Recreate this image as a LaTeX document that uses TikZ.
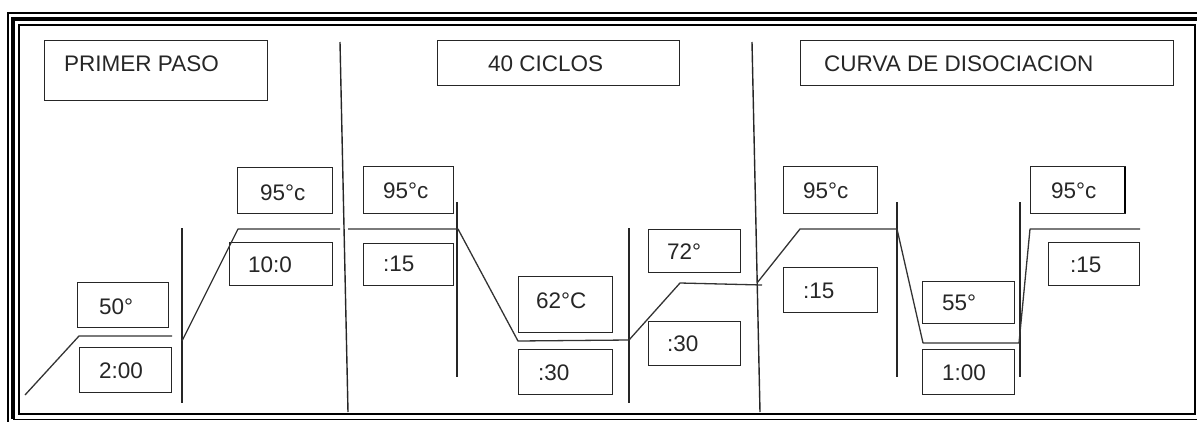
\documentclass[tikz,border=0pt]{standalone}
\usepackage{fontspec}
\setmainfont{Liberation Sans}
\begin{document}
\begin{tikzpicture}[x=1pt,y=-1pt,
  box/.style={draw=black!85, line width=1.4pt, inner sep=0pt, anchor=north west},
  txt/.style={font=\fontsize{22.5}{22.5}\selectfont, text=black!85, inner sep=0pt, anchor=base west},
  ln/.style={draw=black!85, line width=1.4pt},
  crv/.style={draw=black!80, line width=1.3pt, line join=round}]
\useasboundingbox (0,0) rectangle (1197,421);
% frame
\draw[line width=2.2pt] (8,430) -- (8,13) -- (1210,13);
\draw[line width=4pt] (13,419) -- (13,19) -- (1210,19);
\draw[line width=1.6pt] (13,419.5) -- (1210,419.5);
\draw[line width=1.8pt] (19,25) rectangle (1195,414);
% title boxes
\node[box, minimum width=223pt, minimum height=60pt] (b1) at (44,40) {};
\node[txt] (t1) at (64,71) {PRIMER PASO};
\node[box, minimum width=242pt, minimum height=45pt] (b2) at (437,40) {};
\node[txt] (t2) at (488,71) {40 CICLOS};
\node[box, minimum width=373pt, minimum height=45pt] (b3) at (800,40) {};
\node[txt] (t3) at (824,71) {CURVA DE DISOCIACION};
% value boxes
\node[box, minimum width=95pt, minimum height=46pt] (c1) at (237,167) {};
\node[txt] (u1) at (260,200) {95°c};
\node[box, minimum width=103pt, minimum height=43pt] (c2) at (229,242) {};
\node[txt] (u2) at (248,272) {10:0};
\node[box, minimum width=91pt, minimum height=45pt] (c3) at (77,282) {};
\node[txt] (u3) at (99,314) {50°};
\node[box, minimum width=92pt, minimum height=45pt] (c4) at (79,347) {};
\node[txt] (u4) at (99,378) {2:00};
\node[box, minimum width=90pt, minimum height=47pt] (c5) at (363,166) {};
\node[txt] (u5) at (383,198) {95°c};
\node[box, minimum width=90pt, minimum height=42pt] (c6) at (363,243) {};
\node[txt] (u6) at (383,271) {:15};
\node[box, minimum width=94pt, minimum height=56pt] (c7) at (518,276) {};
\node[txt] (u7) at (536,308) {62°C};
\node[box, minimum width=94pt, minimum height=45pt] (c8) at (518,349) {};
\node[txt] (u8) at (538,380) {:30};
\node[box, minimum width=92pt, minimum height=43pt] (c9) at (648,229) {};
\node[txt] (u9) at (667,259) {72°};
\node[box, minimum width=92pt, minimum height=44pt] (c10) at (648,321) {};
\node[txt] (u10) at (667,351) {:30};
\node[box, minimum width=94pt, minimum height=47pt] (c11) at (783,166) {};
\node[txt] (u11) at (803,198) {95°c};
\node[box, minimum width=94pt, minimum height=45pt] (c12) at (783,267) {};
\node[txt] (u12) at (803,298) {:15};
\node[box, minimum width=92pt, minimum height=42pt] (c13) at (922,281) {};
\node[txt] (u13) at (942,310) {55°};
\node[box, minimum width=92pt, minimum height=45pt] (c14) at (922,349) {};
\node[txt] (u14) at (942,380) {1:00};
\node[box, minimum width=95pt, minimum height=47pt] (c15) at (1030,166) {};
\draw[line width=2.6pt] (1125,167) -- (1125,213);
\node[txt] (u15) at (1051,198) {95°c};
\node[box, minimum width=91pt, minimum height=43pt] (c16) at (1048,242) {};
\node[txt] (u16) at (1070,272) {:15};
% separators
\coordinate (v1a) at (340,42); \coordinate (v1b) at (348,412);
\coordinate (v4a) at (752,42); \coordinate (v4b) at (760,412);
\coordinate (s1a) at (182,228); \coordinate (s1b) at (182,403);
\coordinate (s2a) at (457,202); \coordinate (s2b) at (457,377);
\coordinate (s3a) at (629,228); \coordinate (s3b) at (629,403);
\coordinate (s5a) at (897,202); \coordinate (s5b) at (897,377);
\coordinate (s6a) at (1020,202); \coordinate (s6b) at (1020,377);
\draw[ln] (v1a) -- (v1b);
\draw[ln] (v4a) -- (v4b);
\draw[ln] (s1a) -- (s1b);
\draw[ln] (s2a) -- (s2b);
\draw[ln] (s3a) -- (s3b);
\draw[ln] (s5a) -- (s5b);
\draw[ln] (s6a) -- (s6b);
% temperature profile
\coordinate (p0) at (25,395);
\coordinate (p1) at (79,336);
\coordinate (p2) at (172,336);
\draw[crv] (p0) -- (p1) -- (p2);
\coordinate (p3) at (182,341);
\coordinate (p4) at (238,229);
\coordinate (p5) at (340,229);
\draw[crv] (p3) -- (p4) -- (p5);
\coordinate (p6) at (348,229);
\coordinate (p7) at (458,229);
\coordinate (p8) at (518,341);
\coordinate (p9) at (629,340);
\coordinate (p10) at (680,283);
\coordinate (p11) at (762,285);
\draw[crv] (p6) -- (p7) -- (p8) -- (p9) -- (p10) -- (p11);
\coordinate (p12) at (757,283);
\coordinate (p13) at (800,229);
\coordinate (p14) at (897,229);
\coordinate (p15) at (923,343);
\coordinate (p16) at (1019,343);
\coordinate (p17) at (1030,229);
\coordinate (p18) at (1140,229);
\draw[crv] (p12) -- (p13) -- (p14) -- (p15) -- (p16) -- (p17) -- (p18);
\end{tikzpicture}
\end{document}
